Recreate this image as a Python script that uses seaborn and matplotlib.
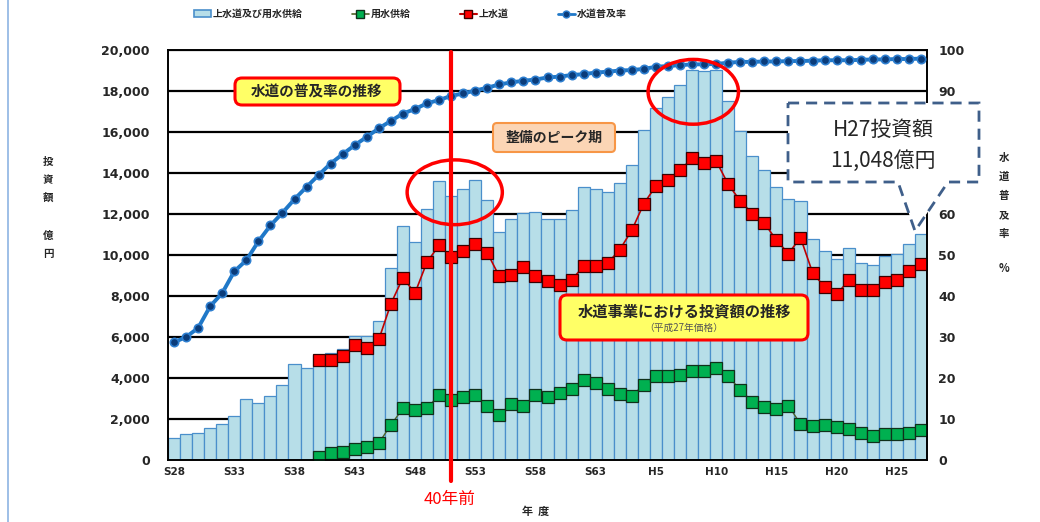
import matplotlib
matplotlib.use("Agg")
import matplotlib.pyplot as plt
import seaborn as sns
import pandas as pd
import numpy as np
from matplotlib.patches import Ellipse, Polygon, FancyBboxPatch, Patch
from matplotlib.lines import Line2D

# ---------------- data ----------------
years = ([f"S{y}" for y in range(28, 64)] + [f"H{y}" for y in range(1, 28)])
tick_labels = ["S28", "S33", "S38", "S43", "S48", "S53", "S58", "S63",
               "H5", "H10", "H15", "H20", "H25"]

total_invest = [1060, 1270, 1320, 1560, 1760, 2130, 2980, 2800, 3110, 3680,
                4690, 4480, 5100, 5230, 5420, 6070, 6070, 6760, 9380, 11420,
                10630, 12230, 13620, 12880, 13240, 13680, 12670, 11120, 11740, 12070,
                12100, 11780, 11780, 12180, 13320, 13210, 13050, 13490, 14380, 16120,
                17150, 17720, 18290, 19020, 18990, 19020, 17520, 16060, 14820, 14170,
                13320, 12750, 12620, 10800, 10200, 9790, 10360, 9630, 9500, 9950,
                10070, 10520, 11048]

josuido_start = 12
josuido = [4890, 4890, 5050, 5590, 5470, 5880, 7620, 8890, 8140, 9660,
           10470, 9900, 10190, 10520, 10110, 8960, 9010, 9410, 8960, 8730,
           8550, 8790, 9450, 9450, 9610, 10260, 11210, 12510, 13370, 13650,
           14140, 14710, 14510, 14590, 13450, 12640, 12020, 11560, 10720, 10070,
           10850, 9140, 8440, 8080, 8760, 8270, 8270, 8680, 8760, 9220, 9540]

yosui = [160, 340, 410, 540, 650, 830, 1710, 2520, 2460, 2520,
         3180, 2930, 3060, 3180, 2610, 2210, 2740, 2610, 3180, 3060,
         3260, 3470, 3910, 3750, 3470, 3220, 3140, 3660, 4120, 4120,
         4170, 4360, 4360, 4480, 4090, 3420, 2850, 2570, 2490, 2650,
         1760, 1640, 1710, 1630, 1510, 1320, 1190, 1270, 1270, 1320, 1470]

coverage = [28.7, 30.0, 32.2, 37.5, 40.7, 46.0, 48.7, 53.3, 57.2, 60.3,
            63.6, 66.6, 69.5, 72.3, 74.6, 76.8, 78.8, 80.9, 82.7, 84.5,
            85.6, 87.0, 87.8, 88.8, 89.4, 90.1, 90.8, 91.6, 92.1, 92.5,
            92.8, 93.3, 93.5, 93.9, 94.1, 94.5, 94.7, 95.0, 95.1, 95.4,
            95.9, 96.1, 96.3, 96.5, 96.5, 96.6, 96.9, 97.1, 97.1, 97.2,
            97.2, 97.3, 97.3, 97.4, 97.5, 97.5, 97.5, 97.6, 97.7, 97.7,
            97.8, 97.8, 97.9]

legend_labels = ["上水道及び用水供給", "用水供給", "上水道", "水道普及率"]

# ---------------- style ----------------
sns.set_theme(style="white")
plt.rcParams["font.family"] = ["Noto Sans CJK JP", "DejaVu Sans"]

W, H = 1040, 522
fig = plt.figure(figsize=(W / 100, H / 100), dpi=100)
ax = fig.add_axes([168 / W, 62 / H, 759 / W, 410 / H])

idx = np.arange(len(years))
df = pd.DataFrame({"pos": idx, "year": years, "total": total_invest, "coverage": coverage})
sub_idx = idx[josuido_start:]
df_sub = pd.DataFrame({"pos": sub_idx, "josuido": josuido, "yosui": yosui})

# bars
sns.barplot(data=df, x="year", y="total", color="#B7DEE8", edgecolor="#4A8FCB",
            linewidth=0.9, width=1.0, saturation=1, ax=ax, zorder=2)

# lines
sns.lineplot(data=df_sub, x="pos", y="josuido", ax=ax, color="#C00000", lw=1.2,
             marker="s", markersize=8.5, markerfacecolor="#FF0000",
             markeredgecolor="#3a0000", markeredgewidth=0.9, zorder=4)
sns.lineplot(data=df_sub, x="pos", y="yosui", ax=ax, color="#4F6228", lw=1.0,
             marker="s", markersize=8.5, markerfacecolor="#00B050",
             markeredgecolor="#10301a", markeredgewidth=0.9, zorder=4)

ax.set_xlim(-0.5, len(years) - 0.5)
ax.set_ylim(0, 20000)
ax.set_yticks(range(0, 20001, 2000))
ax.set_yticklabels([f"{v:,}" for v in range(0, 20001, 2000)],
                   fontsize=9, fontweight="bold", family="DejaVu Sans")
tick_pos = [years.index(t) for t in tick_labels]
ax.set_xticks(tick_pos)
ax.set_xticklabels(tick_labels, fontsize=7.5, fontweight="bold", family="DejaVu Sans")
ax.tick_params(axis="y", length=0, pad=13)
ax.tick_params(axis="x", length=0, pad=5)
ax.set_xlabel("")
ax.set_ylabel("")
ax.set_axisbelow(True)
ax.yaxis.grid(True, color="black", lw=1.6)
ax.xaxis.grid(False)
for s in ax.spines.values():
    s.set_color("black")
    s.set_linewidth(1.2)

# right axis
ax2 = ax.twinx()
sns.lineplot(data=df, x="pos", y="coverage", ax=ax2, color="#1F78C8", lw=2.8,
             marker="o", markersize=6, markerfacecolor="#0B3C7A",
             markeredgecolor="#2E7FD0", markeredgewidth=1.2, zorder=5)
ax2.set_ylim(0, 100)
ax2.set_yticks(range(0, 101, 10))
ax2.set_yticklabels([str(v) for v in range(0, 101, 10)], fontsize=9,
                    fontweight="bold", family="DejaVu Sans")
ax2.tick_params(axis="y", length=0, pad=8)
ax2.set_ylabel("")
ax2.set_xlabel("")
ax2.grid(False)
for s in ax2.spines.values():
    s.set_color("black")
    s.set_linewidth(1.2)

# red "40年前" line and ellipses (on ax2, percent scale)
ax2.plot([23, 23], [99.5, -5.0], color="#FF0000", lw=3, clip_on=False, zorder=6)
ax2.add_patch(Ellipse((23.3, 65.3), 7.9, 15.8, fill=False, ec="#FF0000", lw=2.5, zorder=7))
ax2.add_patch(Ellipse((43.1, 89.8), 7.5, 15.8, fill=False, ec="#FF0000", lw=2.5, zorder=7))

# ---------------- legend ----------------
handles = [
    Patch(facecolor="#B7DEE8", edgecolor="#4A8FCB", lw=1.2),
    Line2D([], [], color="#4F6228", lw=1.2, marker="s", markersize=6,
           markerfacecolor="#00B050", markeredgecolor="#10301a"),
    Line2D([], [], color="#C00000", lw=1.5, marker="s", markersize=6,
           markerfacecolor="#FF0000", markeredgecolor="#3a0000"),
    Line2D([], [], color="#1F78C8", lw=2, marker="o", markersize=5,
           markerfacecolor="#0B3C7A", markeredgecolor="#2E7FD0"),
]
fig.legend(handles, legend_labels, loc="center", bbox_to_anchor=(410 / W, 1 - 14 / H),
           ncol=4, frameon=False, columnspacing=4.9, handlelength=1.7, handletextpad=0.2,
           prop={"size": 7.2, "weight": "bold", "family": ["Noto Sans CJK JP", "DejaVu Sans"]})

# ---------------- helpers in pixel coords ----------------
def inch(x, y):
    return x / 100, (H - y) / 100

def rbox(x0, y0, x1, y1, fc, ec, lw=2.0, r=0.07):
    xa, ya = inch(x0, y1)
    p = FancyBboxPatch((xa, ya), (x1 - x0) / 100, (y1 - y0) / 100,
                       boxstyle=f"round,pad=0,rounding_size={r}",
                       transform=fig.dpi_scale_trans, fc=fc, ec=ec, lw=lw, zorder=8)
    fig.add_artist(p)

def ftext(x, y, s, **kw):
    fig.text(x / W, 1 - y / H, s, ha="center", va="center", zorder=9, **kw)

# annotation boxes
rbox(235, 78, 400, 105, "#FFFF66", "#FF0000", lw=2.2)
ftext(317, 91.5, "水道の普及率の推移", fontsize=10.5, fontweight="bold")

rbox(493, 123, 615, 152, "#FBD5B5", "#F79646", lw=1.5, r=0.04)
ftext(554, 137.5, "整備のピーク期", fontsize=10, fontweight="bold")

rbox(560, 295, 808, 340, "#FFFF66", "#FF0000", lw=2.2)
ftext(684, 311, "水道事業における投資額の推移", fontsize=11, fontweight="bold")
ftext(684, 328, "（平成27年価格）", fontsize=7, color="#555555")

# callout
pts = [(788, 103), (979, 103), (979, 182), (948, 182), (915, 231), (898, 182), (788, 182)]
poly = Polygon([(x / W, 1 - y / H) for x, y in pts], closed=True, transform=fig.transFigure,
               fc="white", ec="#3F5F8A", lw=2.0, ls=(0, (4, 2.5)), zorder=8)
fig.add_artist(poly)
ftext(883, 130, "H27投資額", fontsize=15)
ftext(883, 161, "11,048億円", fontsize=15)

# axis titles (vertical stacked, one character per text)
for ch, yy in zip("投資額", [162, 180, 198]):
    ftext(48, yy, ch, fontsize=7.5, fontweight="bold")
for ch, yy in zip("億円", [236, 254]):
    ftext(48, yy, ch, fontsize=7.5, fontweight="bold")
for ch, yy in zip("水道普及率", [158, 177, 196, 215, 234]):
    ftext(1004, yy, ch, fontsize=7.5, fontweight="bold")
ftext(1004, 268, "%", fontsize=8, fontweight="bold")
ftext(536, 511, "年  度", fontsize=8, fontweight="bold")
ftext(450, 499, "40年前", fontsize=12, color="#FF0000")

# slide border line at left
fig.add_artist(Line2D([8 / W, 8 / W], [0, 1], transform=fig.transFigure,
                      color="#8EB4E3", lw=1.2))

fig.savefig("out.png", dpi=100)
